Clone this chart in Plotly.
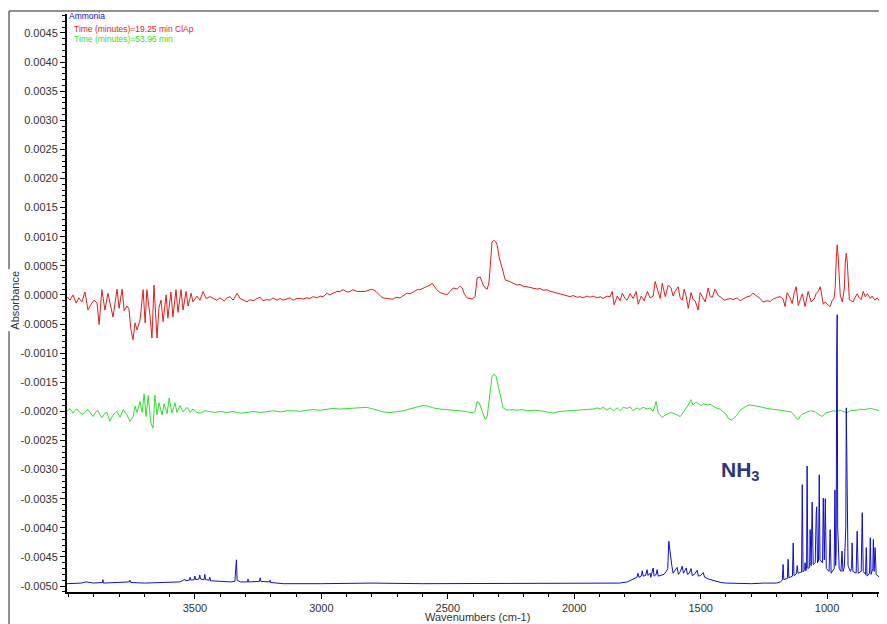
import numpy as np
import plotly.graph_objects as go

# Red trace: Time (minutes)=19.25 min ClAp  (absorbance in units of 1e-4)
red_wn = [4006, 3994, 3982, 3970, 3959, 3947, 3935, 3923, 3911, 3899, 3887, 3879, 3868, 3856, 3844,
          3836, 3824, 3808, 3800, 3788, 3780, 3769, 3761, 3753, 3745, 3737, 3729, 3717, 3705, 3697,
          3690, 3678, 3670, 3662, 3650, 3642, 3634, 3626, 3614, 3607, 3595, 3587, 3575, 3567, 3555,
          3547, 3535, 3527, 3515, 3508, 3492, 3480, 3468, 3456, 3440, 3428, 3413, 3401, 3385, 3373,
          3361, 3349, 3333, 3322, 3310, 3294, 3282, 3270, 3254, 3242, 3231, 3215, 3203, 3191, 3175,
          3163, 3152, 3136, 3124, 3112, 3096, 3084, 3073, 3057, 3045, 3033, 3017, 3005, 2993, 2977,
          2966, 2954, 2938, 2926, 2914, 2898, 2886, 2875, 2859, 2847, 2827, 2807, 2795, 2784, 2776,
          2764, 2756, 2744, 2728, 2716, 2705, 2689, 2677, 2661, 2649, 2637, 2621, 2610, 2598, 2582,
          2570, 2562, 2550, 2542, 2530, 2518, 2503, 2491, 2479, 2463, 2451, 2443, 2435, 2424, 2412,
          2404, 2392, 2384, 2372, 2360, 2352, 2344, 2337, 2329, 2325, 2317, 2309, 2305, 2297, 2285,
          2273, 2262, 2254, 2242, 2226, 2214, 2202, 2186, 2174, 2162, 2147, 2135, 2123, 2107, 2095,
          2083, 2068, 2056, 2044, 2028, 2016, 2004, 1988, 1977, 1965, 1949, 1937, 1925, 1909, 1897,
          1886, 1870, 1858, 1850, 1842, 1830, 1818, 1810, 1799, 1791, 1779, 1767, 1755, 1747, 1735,
          1723, 1711, 1700, 1688, 1680, 1668, 1660, 1652, 1640, 1628, 1617, 1609, 1601, 1589, 1581,
          1573, 1565, 1557, 1549, 1538, 1530, 1522, 1510, 1502, 1490, 1482, 1470, 1462, 1454, 1443,
          1431, 1423, 1407, 1395, 1383, 1372, 1356, 1344, 1328, 1316, 1304, 1293, 1281, 1265, 1253,
          1237, 1225, 1213, 1197, 1186, 1174, 1166, 1158, 1146, 1138, 1130, 1122, 1114, 1106, 1098,
          1087, 1075, 1063, 1051, 1043, 1035, 1027, 1015, 1007, 1000, 988, 980, 972, 968, 964,
          960, 956, 952, 948, 940, 932, 928, 924, 920, 916, 912, 904, 897, 889, 881,
          873, 865, 857, 849, 841, 829, 822, 810, 802, 790, 782, 771, 763]
red_abs_1e4 = [-0.3, -0.9, 0.0, -1.4, -0.5, -1.2, 0.5, -2.6, -1.6, -0.9, -1.4, -5.1, 0.9, -2.6, 0.3,
               -1.4, -3.8, 1.0, -2.3, 1.0, -2.7, -1.9, -2.4, -6.0, -7.7, -4.8, -6.0, -4.3, 0.9, -4.8,
               0.9, -3.5, -7.4, 1.7, -7.4, -2.1, -0.9, -4.6, 0.0, -4.0, 0.5, -3.8, 0.9, -3.0, 0.9,
               -2.6, 0.6, -1.9, 0.3, -1.2, -0.2, -0.9, 0.6, -0.6, -0.3, -0.6, -0.9, -0.5, -1.0, -0.5,
               -0.3, -0.9, 0.3, -0.6, -0.9, -1.2, -0.8, -1.0, -0.6, -0.4, -1.0, -0.8, -0.9, -0.5, -0.9,
               -0.6, -0.9, -0.7, -0.5, -0.9, -0.6, -0.6, -0.7, -0.5, -0.6, -0.3, -0.5, -0.2, -0.3, 0.3,
               0.0, 0.3, 0.6, 0.6, 0.9, 0.5, 0.6, 0.9, 0.6, 0.6, 0.6, 0.9, 0.9, 0.6, 0.2,
               -0.3, -0.5, -0.6, -0.7, -0.7, -0.4, -0.5, -0.1, 0.3, 0.2, 0.5, 0.9, 0.9, 1.1, 1.4,
               1.7, 2.0, 1.2, 0.8, 0.4, 0.2, 0.0, 0.6, 1.2, 1.0, 1.5, 1.2, 0.2, -0.5, -0.6,
               -0.7, -0.3, 2.9, 3.1, 1.7, 1.2, 1.0, 2.2, 6.5, 9.1, 9.4, 9.0, 8.6, 6.5, 4.6,
               2.6, 2.4, 2.3, 2.0, 1.7, 1.8, 1.5, 1.4, 1.3, 1.2, 1.0, 1.1, 0.8, 0.9, 0.6,
               0.5, 0.3, 0.2, 0.0, -0.2, -0.3, -0.1, -0.4, -0.3, -0.5, -0.2, -0.4, -0.2, -0.5, -0.3,
               -0.6, -0.2, -0.3, 0.6, -1.7, -0.2, -1.0, 0.3, -0.6, -0.9, 0.2, -0.6, 0.6, -1.6, -0.2,
               -1.0, 0.6, -0.5, -0.2, 2.3, 0.6, -0.6, 2.0, -0.3, 1.7, 1.2, -0.2, 0.6, 1.4, -0.5,
               -0.9, 1.0, -0.3, -2.3, 0.4, -0.8, -1.0, -2.6, 0.4, -0.6, -1.2, 1.2, -0.3, -0.4, 1.0,
               -0.1, -0.3, -0.9, -0.7, -0.6, -0.8, -0.5, -1.0, -0.6, -0.3, -0.2, 0.3, -0.1, -0.6, -1.2,
               -1.0, -1.1, -0.7, -0.4, -0.3, -0.7, -2.0, 0.4, -0.5, -1.5, 0.4, 1.4, -1.8, -0.8, 0.2,
               -2.0, 0.6, -1.2, -0.7, 0.3, 0.6, 1.4, -1.6, -1.2, -1.6, -2.0, -1.0, -0.5, 1.2, 6.0,
               8.6, 6.5, 2.0, 0.0, -1.2, 1.0, 5.5, 7.2, 5.5, 1.0, -0.8, -1.0, -1.2, -0.4, 0.2,
               -0.5, -0.8, 0.6, -0.3, 0.2, -0.6, -0.2, -0.9, -0.5, -1.2, -1.2, -1.6, -2.0]

# Green trace: Time (minutes)=53.96 min  (absorbance in units of 1e-4)
green_wn = [4006, 3994, 3982, 3970, 3962, 3955, 3943, 3931, 3923, 3911, 3903, 3891, 3883, 3875, 3868,
            3856, 3848, 3836, 3824, 3808, 3796, 3784, 3769, 3757, 3745, 3737, 3729, 3717, 3709, 3701,
            3693, 3685, 3678, 3674, 3666, 3658, 3650, 3642, 3630, 3622, 3610, 3602, 3591, 3579, 3571,
            3559, 3547, 3531, 3519, 3508, 3492, 3480, 3460, 3440, 3420, 3401, 3373, 3349, 3322, 3294,
            3270, 3242, 3215, 3191, 3163, 3136, 3112, 3084, 3057, 3033, 3005, 2977, 2954, 2926, 2898,
            2875, 2847, 2820, 2795, 2776, 2756, 2728, 2701, 2677, 2661, 2641, 2621, 2598, 2578, 2558,
            2530, 2503, 2479, 2451, 2427, 2412, 2400, 2392, 2384, 2376, 2368, 2360, 2352, 2344, 2337,
            2333, 2325, 2317, 2309, 2305, 2297, 2293, 2285, 2281, 2265, 2246, 2226, 2206, 2186, 2162,
            2135, 2107, 2083, 2056, 2028, 2004, 1977, 1949, 1925, 1909, 1897, 1886, 1870, 1858, 1846,
            1830, 1818, 1806, 1791, 1779, 1767, 1751, 1740, 1728, 1712, 1700, 1688, 1676, 1668, 1660,
            1652, 1640, 1632, 1620, 1609, 1593, 1581, 1569, 1561, 1549, 1538, 1530, 1518, 1510, 1498,
            1490, 1474, 1462, 1447, 1435, 1423, 1411, 1399, 1391, 1379, 1372, 1356, 1344, 1332, 1316,
            1304, 1285, 1265, 1237, 1213, 1186, 1158, 1142, 1130, 1122, 1114, 1106, 1098, 1083, 1067,
            1051, 1039, 1027, 1019, 1007, 995, 976, 960, 948, 932, 920, 909, 897, 881, 869,
            857, 841, 829, 817, 802, 790, 778, 763]
green_abs_1e4 = [-20.0, -19.5, -20.3, -19.6, -19.8, -20.2, -20.5, -19.9, -19.7, -20.4, -20.9, -20.0, -19.9, -20.6, -21.1,
                 -20.3, -20.2, -21.7, -20.6, -20.0, -21.0, -19.7, -20.6, -21.7, -21.0, -19.1, -20.2, -18.3, -20.2, -17.0,
                 -20.9, -17.3, -20.0, -22.0, -22.9, -17.2, -20.6, -18.5, -20.6, -18.7, -20.4, -17.7, -20.3, -18.5, -20.2,
                 -19.0, -20.1, -19.3, -20.2, -19.6, -20.2, -20.3, -19.9, -20.1, -20.2, -20.0, -20.2, -20.0, -20.3, -20.2,
                 -20.0, -20.2, -20.1, -19.9, -20.1, -19.9, -19.9, -20.0, -19.8, -19.7, -19.8, -19.6, -19.5, -19.6, -19.5,
                 -19.4, -19.4, -19.3, -19.6, -19.8, -20.1, -20.2, -20.1, -19.9, -19.7, -19.5, -19.3, -19.0, -19.1, -19.4,
                 -19.6, -19.7, -19.8, -19.9, -20.0, -20.2, -20.2, -20.0, -18.3, -18.5, -19.5, -20.6, -21.4, -20.8, -18.5,
                 -17.0, -14.0, -13.6, -14.0, -14.8, -16.2, -16.9, -18.7, -19.4, -19.8, -19.7, -19.8, -19.7, -19.9, -19.8,
                 -19.9, -20.1, -20.3, -20.0, -19.9, -19.8, -19.8, -19.7, -19.6, -19.4, -19.6, -19.3, -19.8, -19.4, -19.9,
                 -19.4, -19.9, -19.3, -19.5, -19.2, -19.9, -19.4, -19.7, -19.3, -19.6, -19.4, -20.0, -18.3, -20.3, -20.6,
                 -21.1, -20.6, -20.5, -20.2, -20.3, -20.6, -20.9, -20.2, -19.7, -18.9, -18.0, -18.9, -18.4, -18.6, -19.0,
                 -18.7, -18.9, -18.8, -19.2, -19.5, -19.6, -20.1, -20.5, -21.2, -21.5, -21.3, -20.6, -19.8, -19.4, -19.0,
                 -18.9, -19.0, -19.2, -19.5, -19.7, -19.8, -20.0, -20.1, -20.6, -21.2, -21.4, -20.8, -20.5, -20.2, -19.9,
                 -20.0, -20.3, -20.7, -20.9, -20.3, -20.1, -19.9, -20.0, -19.8, -20.1, -20.2, -19.9, -19.9, -19.8, -19.6,
                 -19.7, -19.6, -19.5, -19.6, -19.8, -19.9, -20.0, -20.2]

# Blue trace: Ammonia reference  (absorbance in units of 1e-4)
blue_wn = [4006, 3950, 3930, 3900, 3866, 3864, 3862, 3800, 3760, 3757, 3754, 3700, 3600, 3560, 3545,
           3541, 3537, 3522, 3519, 3516, 3503, 3500, 3497, 3484, 3481, 3478, 3464, 3461, 3458, 3444,
           3441, 3438, 3400, 3360, 3342, 3339, 3336, 3333, 3320, 3292, 3290, 3288, 3245, 3242, 3239,
           3205, 3203, 3201, 3150, 3000, 2800, 2600, 2400, 2200, 2000, 1850, 1820, 1790, 1775, 1760,
           1752, 1748, 1744, 1735, 1731, 1727, 1718, 1712, 1708, 1700, 1697, 1688, 1684, 1676, 1672,
           1668, 1655, 1645, 1636, 1630, 1626, 1623, 1619, 1614, 1609, 1603, 1593, 1588, 1580, 1573,
           1568, 1562, 1557, 1552, 1545, 1538, 1533, 1525, 1514, 1509, 1500, 1490, 1484, 1470, 1455,
           1440, 1420, 1400, 1300, 1250, 1200, 1185, 1177, 1174, 1171, 1157, 1154, 1151, 1137, 1134,
           1131, 1121, 1118, 1115, 1101, 1098, 1095, 1089, 1087, 1084, 1081, 1079, 1076, 1069, 1067,
           1063, 1059, 1055, 1047, 1043, 1041, 1038, 1034, 1031, 1028, 1018, 1015, 1011, 1007, 1003,
           992, 988, 984, 972, 969, 966, 964, 962, 961, 960, 958, 952, 945, 941, 937,
           932, 926, 924, 921, 917, 908, 903, 901, 898, 885, 881, 877, 865, 861, 857,
           848, 845, 842, 832, 829, 826, 819, 817, 814, 810, 806, 793, 790, 786, 778,
           774, 770, 763]
blue_abs_1e4 = [-49.6, -49.5, -49.3, -49.5, -49.4, -48.9, -49.5, -49.4, -49.3, -49.0, -49.4, -49.5, -49.4, -49.3, -49.0,
                -48.8, -49.1, -49.0, -48.5, -49.0, -48.9, -48.3, -48.9, -48.8, -48.1, -48.8, -48.9, -48.0, -48.9, -49.0,
                -48.5, -49.1, -49.2, -49.3, -49.2, -45.6, -45.5, -49.0, -49.3, -49.3, -48.8, -49.3, -49.2, -48.6, -49.2,
                -49.3, -49.0, -49.4, -49.6, -49.6, -49.5, -49.6, -49.6, -49.6, -49.6, -49.6, -49.5, -49.3, -49.0, -48.8,
                -48.5, -47.8, -48.5, -48.3, -47.4, -48.3, -48.2, -47.2, -48.2, -47.8, -48.5, -46.9, -48.3, -48.0, -47.2,
                -48.3, -48.2, -48.0, -47.5, -47.0, -42.3, -43.5, -45.0, -46.5, -47.8, -47.5, -46.8, -48.0, -47.5, -46.6,
                -47.8, -47.3, -46.9, -48.0, -47.8, -47.0, -48.2, -48.0, -47.3, -48.3, -48.2, -47.7, -48.5, -48.8, -49.0,
                -49.2, -49.4, -49.5, -49.6, -49.5, -49.5, -49.3, -49.0, -46.3, -48.9, -48.7, -45.4, -48.6, -48.3, -42.6,
                -48.2, -47.9, -46.5, -47.8, -47.6, -32.6, -47.6, -47.2, -46.0, -47.4, -47.0, -29.4, -47.0, -46.8, -40.3,
                -46.5, -35.6, -46.3, -46.0, -37.6, -36.4, -46.0, -45.8, -30.9, -45.5, -46.0, -34.9, -45.5, -35.0, -47.0,
                -47.5, -40.3, -47.8, -47.0, -33.5, -46.5, -44.0, -10.3, -40.0, -3.4, -40.0, -47.0, -47.5, -44.0, -47.5,
                -46.8, -40.0, -19.4, -34.0, -46.5, -47.5, -47.0, -42.6, -47.5, -47.8, -40.6, -47.8, -47.5, -37.4, -47.5,
                -48.0, -43.4, -48.3, -47.8, -41.7, -48.0, -47.0, -42.0, -47.5, -43.4, -48.0, -48.5, -47.7, -48.6, -47.8,
                -48.8, -48.0, -49.0]

x_tick_vals = [3500, 3000, 2500, 2000, 1500, 1000]
y_tick_labels = ["0.0045", "0.0040", "0.0035", "0.0030", "0.0025", "0.0020", "0.0015", "0.0010",
                 "0.0005", "0.0000", "-0.0005", "-0.0010", "-0.0015", "-0.0020", "-0.0025", "-0.0030",
                 "-0.0035", "-0.0040", "-0.0045", "-0.0050"]

FONT = "Liberation Sans, Arial, sans-serif"

fig = go.Figure()
for wn, ab, col in [(red_wn, red_abs_1e4, "#e01e1e"),
                    (green_wn, green_abs_1e4, "#2ee02e"),
                    (blue_wn, blue_abs_1e4, "#1010c8")]:
    fig.add_trace(go.Scatter(x=wn, y=np.array(ab) * 1e-4, mode="lines",
                             line=dict(color=col, width=1), showlegend=False))

# page body has an 8px margin, so the figure is made 8px smaller to fit the window
fig.update_layout(
    width=879, height=616,
    margin=dict(l=59, r=0, t=6, b=32),
    paper_bgcolor="white", plot_bgcolor="white",
    font=dict(family=FONT, size=11, color="#333"),
)
fig.update_xaxes(
    range=[4006, 763], showgrid=False, zeroline=False,
    showline=True, linecolor="black", linewidth=2,
    tickmode="array", tickvals=x_tick_vals, ticks="outside", ticklen=5, tickcolor="black",
    minor=dict(tickmode="linear", tick0=0, dtick=100, ticks="outside", ticklen=3, tickcolor="black"),
    tickfont=dict(size=11, color="#333"),
)
fig.update_yaxes(
    range=[-0.005103, 0.004826], showgrid=False, zeroline=False,
    showline=True, linecolor="black", linewidth=2,
    tickmode="array", tickvals=[float(s) for s in y_tick_labels], ticktext=y_tick_labels,
    ticks="outside", ticklen=5, tickcolor="black",
    minor=dict(tickmode="linear", tick0=0, dtick=0.0001, ticks="outside", ticklen=3, tickcolor="black"),
    tickfont=dict(size=11, color="#333"),
)

# outer frame (top and left)
fig.add_shape(type="line", xref="paper", yref="paper", x0=-0.0707, x1=1.0, y0=1.0052, y1=1.0052,
              line=dict(color="#222", width=1))
fig.add_shape(type="line", xref="paper", yref="paper", x0=-0.0707, x1=-0.0707, y0=1.0052, y1=-0.06,
              line=dict(color="#222", width=1))

# axis titles
fig.add_annotation(text="Wavenumbers (cm-1)", xref="paper", yref="paper", x=0.5, y=-0.0545,
                   xanchor="center", yanchor="bottom", showarrow=False, borderpad=0,
                   font=dict(family=FONT, size=11, color="#333"))
fig.add_annotation(text="Absorbance", xref="paper", yref="paper", x=-0.0634, y=0.504,
                   textangle=-90, xanchor="center", yanchor="middle", showarrow=False,
                   bgcolor="white", font=dict(family=FONT, size=11, color="#333"))

# legend texts
fig.add_annotation(text="Ammonia", xref="paper", yref="paper", x=0.0, y=0.9965,
                   xanchor="left", yanchor="middle", showarrow=False,
                   font=dict(family=FONT, size=8.5, color="#1010c8"))
fig.add_annotation(text="Time (minutes)=19.25 min ClAp", xref="paper", yref="paper", x=0.006, y=0.974,
                   xanchor="left", yanchor="middle", showarrow=False,
                   font=dict(family=FONT, size=8.5, color="#e01e1e"))
fig.add_annotation(text="Time (minutes)=53.96 min", xref="paper", yref="paper", x=0.006, y=0.957,
                   xanchor="left", yanchor="middle", showarrow=False,
                   font=dict(family=FONT, size=8.5, color="#2ee02e"))

# NH3 label
fig.add_annotation(text="<b>NH<sub>3</sub></b>", x=1344, y=-0.00303, showarrow=False,
                   xanchor="center", yanchor="middle",
                   font=dict(family=FONT, size=21, color="#2e3580"))

fig.write_html("out.html")
